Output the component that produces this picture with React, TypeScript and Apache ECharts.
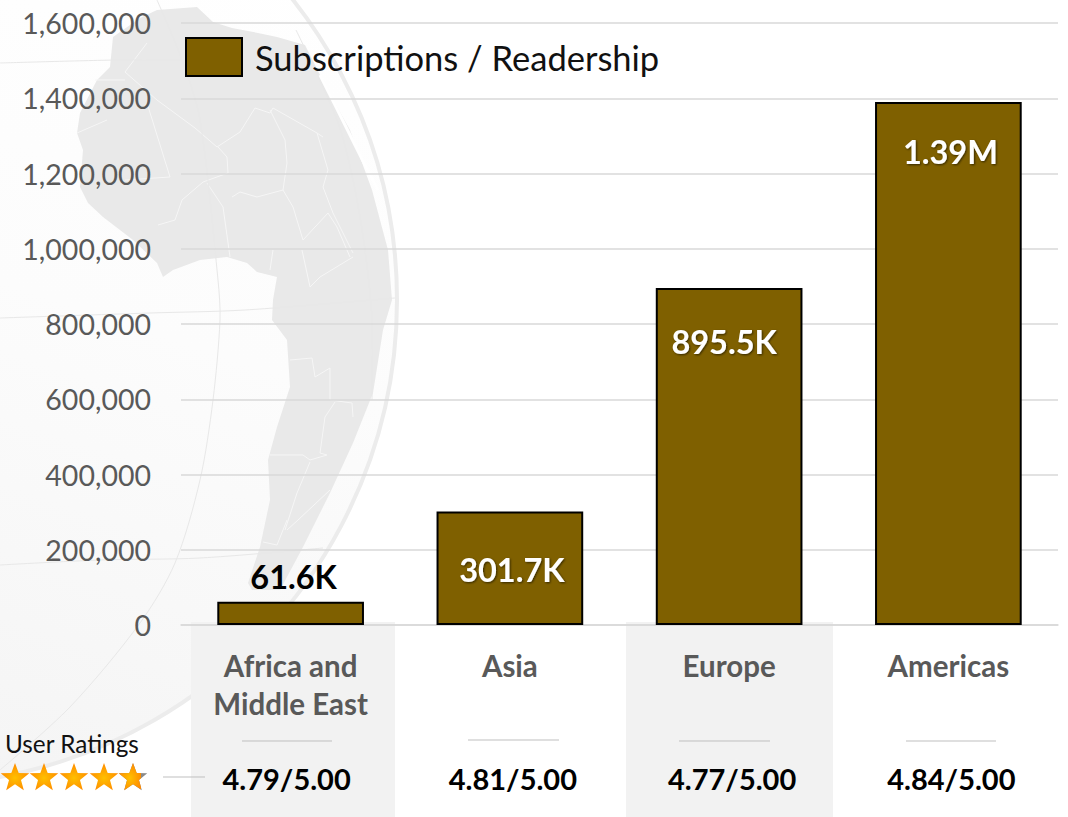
import React, { useEffect, useRef } from "react";
import * as echarts from "echarts";

const regions = ["Africa and\nMiddle East", "Asia", "Europe", "Americas"];
const subscriptions = [61600, 301700, 895500, 1390000];
const valueLabels = ["61.6K", "301.7K", "895.5K", "1.39M"];
const ratings = ["4.79/5.00", "4.81/5.00", "4.77/5.00", "4.84/5.00"];
const labelGaps = [0, 42, 37, 33];
const labelShifts = [3, 2, -5, 2];
const seriesName = "Subscriptions / Readership";
const FONT = "Lato, Carlito, Calibri, sans-serif";
const BROWN = "#7f6000";

const land: number[][] = [
  [157,10],[140,18],[113,37],[110,67],[97,80],[80,113],[77,133],[83,150],[80,187],[88,203],[103,217],[133,240],[157,263],[163,277],
  [173,270],[200,260],[227,257],[247,263],[257,272],[277,277],[273,300],[272,320],[287,340],[290,387],[277,427],[268,460],[270,500],[260,547],[248,583],[252,590],[280,590],
  [303,547],[330,493],[353,443],[373,393],[383,330],[392,300],[388,250],[372,190],[350,130],[325,85],[305,45],[277,37],[258,33],[232,28],[213,22],[197,7],
];
const borders: number[][][] = [
  [[147,43],[125,72],[157,100],[195,128],[217,147],[240,132],[255,108],[270,113],[273,108],[317,133],[323,137]],
  [[147,103],[170,177],[125,180]],
  [[95,80],[125,80]],
  [[107,120],[77,133]],
  [[218,147],[227,157],[228,173],[203,182],[182,200],[175,220],[158,225]],
  [[207,183],[223,207],[230,257]],
  [[232,197],[240,192],[257,197],[283,190],[293,207],[303,240]],
  [[270,110],[285,140],[287,163],[283,190]],
  [[317,133],[328,170],[323,187],[333,213],[353,253]],
  [[303,240],[328,213],[337,227],[350,257]],
  [[273,250],[270,270]],
  [[302,250],[310,287],[320,277],[353,257]],
  [[290,360],[312,358],[315,377],[330,368],[330,400],[352,403],[353,417]],
  [[335,402],[325,417],[320,453],[327,455]],
  [[270,455],[303,455],[310,460],[327,455]],
  [[310,462],[297,493],[285,530]],
  [[330,490],[298,520],[287,530]],
  [[263,542],[277,545],[287,520]],
];
const redSea: number[][] = [[320,75],[345,125],[365,165],[378,190]];
const meridian1: number[][] = [[157,0],[182,60],[200,120],[218,280],[220,320],[213,400],[200,480],[175,563],[140,623],[70,707],[0,770]];
const meridian2: number[][] = [[296,30],[337,120],[353,180],[365,250],[372,320],[372,400]];
const lat1: number[][] = [[0,63],[117,60],[183,60]];
const lat2: number[][] = [[0,318],[150,313],[245,310],[395,298]];
const lat3: number[][] = [[0,565],[100,560],[200,558],[323,548]];
const dividers: number[][] = [[242,741,332],[468,740,559],[679,741,770],[906,741,996],[163,777,205]];
const starCenters = [15, 44, 74, 104, 133];

function starPoints(cx: number, cy: number, r: number): number[][] {
  const pts: number[][] = [];
  for (let i = 0; i < 10; i++) {
    const a = -Math.PI / 2 + (i * Math.PI) / 5;
    const rr = i % 2 === 0 ? r : r * 0.42;
    pts.push([cx + rr * Math.cos(a), cy + rr * Math.sin(a)]);
  }
  return pts;
}
function clipRight(pts: number[][], xMax: number): number[][] {
  const out: number[][] = [];
  for (let i = 0; i < pts.length; i++) {
    const a = pts[i], b = pts[(i + 1) % pts.length];
    if (a[0] <= xMax) out.push(a);
    if (a[0] <= xMax !== b[0] <= xMax) {
      const t = (xMax - a[0]) / (b[0] - a[0]);
      out.push([xMax, a[1] + t * (b[1] - a[1])]);
    }
  }
  return out;
}
const starFill = () =>
  new echarts.graphic.RadialGradient(0.5, 0.55, 0.55, [
    { offset: 0, color: "#ffc000" },
    { offset: 1, color: "#ff8a00" },
  ]);

const ratingStyle = { fontFamily: FONT, fontSize: 29, fontWeight: "bold", color: "#000000" };

export default function App() {
  const ref = useRef<HTMLDivElement>(null);
  useEffect(() => {
    const chart = echarts.init(ref.current!, undefined, { renderer: "svg" });
    const bg: any[] = [
      {
        type: "circle", z: -20, silent: true,
        shape: { cx: -88, cy: 300, r: 485 },
        style: {
          fill: new echarts.graphic.LinearGradient(0.8, 0.1, 0.5, 1, [
            { offset: 0, color: "#ffffff" },
            { offset: 0.45, color: "#fcfcfc" },
            { offset: 1, color: "#f4f4f4" },
          ]),
          stroke: "#ececec", lineWidth: 4,
        },
      },
      { type: "polygon", z: -19, silent: true, shape: { points: land }, style: { fill: "#e9e9e9" } },
    ];
    borders.forEach((points) =>
      bg.push({ type: "polyline", z: -18, silent: true, shape: { points }, style: { stroke: "#f6f6f6", lineWidth: 1, fill: "none" } })
    );
    bg.push({ type: "polyline", z: -18, silent: true, shape: { points: redSea, smooth: 0.3 }, style: { stroke: "#ffffff", lineWidth: 3, fill: "none" } });
    [meridian1, meridian2, lat1, lat2, lat3].forEach((points) =>
      bg.push({ type: "polyline", z: -17, silent: true, shape: { points, smooth: 0.3 }, style: { stroke: "#e8e8e8", lineWidth: 1, fill: "none" } })
    );
    bg.push({ type: "rect", z: -5, silent: true, shape: { x: 191, y: 622, width: 204, height: 195 }, style: { fill: "#f2f2f2" } });
    bg.push({ type: "rect", z: -5, silent: true, shape: { x: 626, y: 622, width: 207, height: 195 }, style: { fill: "#f2f2f2" } });
    dividers.forEach(([x1, y, x2]) =>
      bg.push({ type: "line", z: 1, silent: true, shape: { x1, y1: y, x2, y2: y }, style: { stroke: "#bfbfbf", lineWidth: 1 } })
    );
    starCenters.forEach((cx, i) => {
      const pts = starPoints(cx, 778, 15);
      if (i === 4) {
        bg.push({ type: "polygon", z: 3, silent: true, shape: { points: pts }, style: { fill: "#8a8a8a" } });
        bg.push({ type: "polygon", z: 4, silent: true, shape: { points: clipRight(pts, 141) }, style: { fill: starFill() } });
      } else {
        bg.push({ type: "polygon", z: 4, silent: true, shape: { points: pts }, style: { fill: starFill() } });
      }
    });
    bg.push({
      type: "text", z: 5, silent: true, x: 5, y: 743,
      style: { text: "User Ratings", font: `24.3px ${FONT}`, fill: "#111111", textVerticalAlign: "middle" },
    });

    chart.setOption({
      animation: false,
      backgroundColor: "#ffffff",
      grid: { left: 181, right: 10, top: 23, bottom: 192, containLabel: false },
      legend: {
        left: 185, top: 37, padding: 0, itemWidth: 56, itemHeight: 38, itemGap: 10,
        data: [seriesName], selectedMode: false, icon: "rect",
        textStyle: { fontFamily: FONT, fontSize: 34.5, color: "#111111", padding: [6, 0, 0, 8] },
        itemStyle: { color: BROWN, borderColor: "#000000", borderWidth: 2 },
      },
      xAxis: [
        {
          type: "category", data: regions, position: "bottom",
          axisLine: { show: true, lineStyle: { color: "#d9d9d9", width: 1.5 } },
          axisTick: { show: false },
          axisLabel: {
            interval: 0, margin: 21, fontFamily: FONT, fontSize: 29.5, fontWeight: "bold",
            color: "#595959", lineHeight: 38, verticalAlign: "top",
          },
        },
        {
          type: "category", data: ratings, position: "bottom", offset: 139,
          axisLine: { show: false }, axisTick: { show: false },
          axisLabel: {
            interval: 0, margin: 0, ...ratingStyle,
            formatter: (v: string, i: number) => `{${i === 0 ? "a" : "b"}|${v}}`,
            rich: {
              a: { ...ratingStyle, padding: [0, 8, 0, 0] },
              b: { ...ratingStyle, padding: [0, 0, 0, 6] },
            },
          },
        },
      ],
      yAxis: {
        type: "value", min: 0, max: 1600000, interval: 200000,
        axisLine: { show: false }, axisTick: { show: false },
        axisLabel: {
          margin: 30, fontFamily: FONT, fontSize: 28.5, color: "#595959",
          formatter: (v: number) => v.toLocaleString("en-US"),
        },
        splitLine: { show: true, lineStyle: { color: "#d9d9d9", width: 1.5 } },
      },
      series: [
        {
          name: seriesName, type: "bar", xAxisIndex: 0, barWidth: "66.9%",
          itemStyle: { color: BROWN, borderColor: "#000000", borderWidth: 2 },
          data: subscriptions.map((value, i) => ({
            value,
            label: {
              show: true,
              formatter: valueLabels[i],
              position: i === 0 ? "top" : "insideTop",
              distance: i === 0 ? 9 : labelGaps[i],
              offset: [labelShifts[i], 0],
              fontFamily: FONT, fontSize: 32.5, fontWeight: "bold",
              color: i === 0 ? "#000000" : "#ffffff",
              textShadowColor: i === 0 ? "transparent" : "rgba(0,0,0,0.6)",
              textShadowBlur: i === 0 ? 0 : 2,
              textShadowOffsetX: i === 0 ? 0 : 1,
              textShadowOffsetY: i === 0 ? 0 : 1,
            },
          })),
        },
      ],
      graphic: bg,
    });
    return () => chart.dispose();
  }, []);
  return <div ref={ref} style={{ position: "fixed", left: 0, top: 0, width: 1068, height: 817 }} />;
}
